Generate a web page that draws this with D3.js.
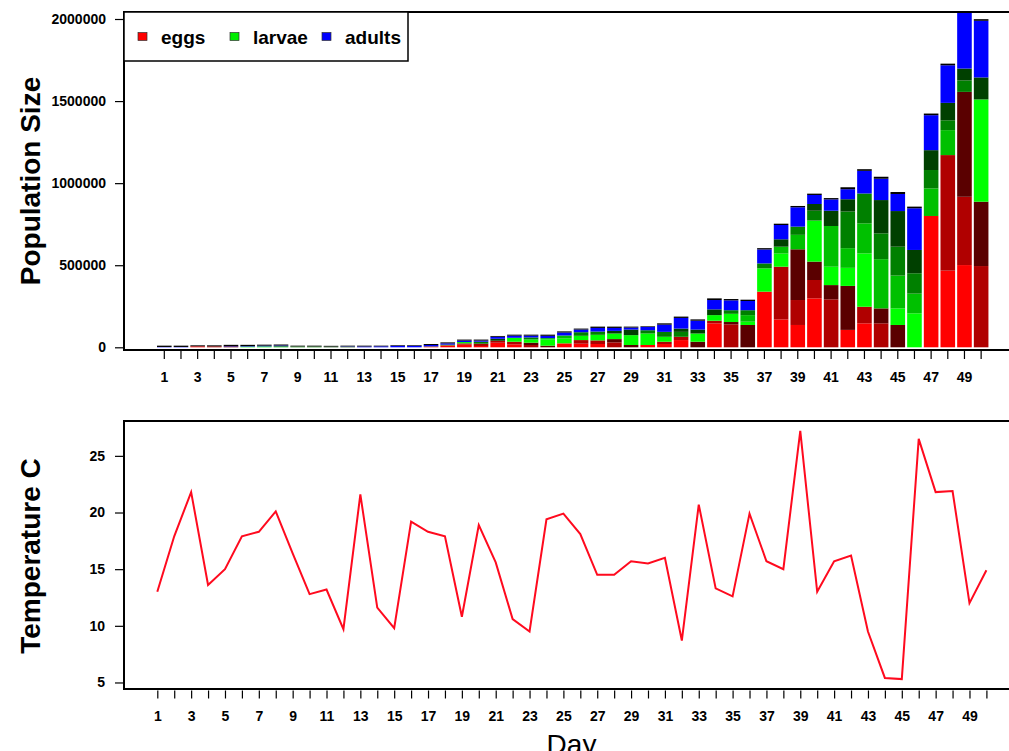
<!DOCTYPE html>
<html><head><meta charset="utf-8">
<script src="https://cdn.jsdelivr.net/npm/d3@7"></script>
<style>
body{margin:0;background:#fff;}
svg{display:block;font-family:"Liberation Sans",Arial,Helvetica,sans-serif;}
</style>
</head><body>
<svg id="chart" width="1009" height="751"></svg>
<script>
// ---------- DATA ----------
const days = [1,2,3,4,5,6,7,8,9,10,11,12,13,14,15,16,17,18,19,20,21,22,23,24,25,26,27,28,29,30,31,32,33,34,35,36,37,38,39,40,41,42,43,44,45,46,47,48,49,50];

// population by age class (stacked bottom to top)
const eggs1   = [0,0,6000,0,0,0,0,0,0,0,0,0,0,0,0,0,4000,12000,16000,8000,28000,18000,0,0,24000,22000,20000,0,0,14000,20000,44000,0,146000,0,0,339000,170000,136000,298000,0,106000,146000,0,0,0,800000,467000,501000,0];
const eggs2   = [0,0,0,6000,0,0,0,0,0,0,0,0,0,0,0,0,0,0,8000,14000,12000,16000,14000,0,0,22000,22000,30000,0,0,14000,20000,0,16000,140000,0,0,321000,152000,112000,292000,0,101000,146000,0,0,0,704000,416000,495000];
const eggs3   = [0,0,0,0,6000,0,0,0,0,0,0,0,0,0,0,0,0,0,0,0,0,0,14000,10000,0,0,0,20000,14000,0,0,0,34000,0,14000,136000,0,0,309000,112000,87000,268000,0,91000,136000,0,0,0,639000,392000];
const larvae1 = [0,0,0,0,0,4000,3000,0,0,0,0,0,0,0,0,0,0,0,8000,0,0,24000,20000,38000,30000,26000,34000,34000,60000,70000,30000,0,50000,34000,50000,20000,142000,80000,0,250000,112000,110000,325000,0,101000,207000,0,0,0,623000];
const larvae2 = [0,0,0,0,0,0,3000,3000,0,0,0,0,0,0,0,0,0,4000,0,0,0,0,0,8000,18000,0,0,0,0,0,0,0,0,0,0,40000,0,42000,88000,0,248000,120000,183000,300000,200000,120000,168000,152000,0,0];
const larvae3 = [0,0,0,0,0,0,0,4000,4000,3000,0,0,0,0,0,0,0,0,0,12000,0,0,12000,0,0,22000,20000,0,0,20000,30000,30000,0,0,22000,30000,30000,0,50000,60000,0,223000,182000,157000,176000,124000,112000,60000,70000,0];
const larvae4 = [0,0,0,0,0,0,0,0,2000,3000,5000,4000,0,0,0,0,2000,0,0,0,12000,0,0,0,0,0,0,16000,34000,0,0,20000,24000,35000,0,0,0,45000,0,41000,93000,75000,0,203000,217000,142000,121000,106000,72000,134000];
const adults  = [2000,2000,0,0,2000,3000,4000,4000,0,0,0,2000,5000,6000,9000,9000,8000,8000,9000,7000,12000,13000,11000,14000,18000,16000,22000,18000,12000,20000,44000,65000,54000,57000,60000,56000,85000,87000,118000,55000,69000,61000,138000,130000,104000,254000,213000,229000,352000,345000];
const oldest  = [8000,8000,6000,6000,7000,8000,6000,6000,4000,4000,4000,4000,5000,4000,4000,4000,6000,6000,6000,6000,5000,6000,6000,7000,7000,6000,8000,8000,6000,4000,8000,8000,8000,10000,8000,8000,8000,8000,8000,8000,8000,12000,10000,12000,12000,10000,10000,10000,10000,10000];

const temperature = [13.0,17.9,21.8,13.6,15.0,17.9,18.3,20.1,16.4,12.8,13.2,9.7,21.6,11.6,9.8,19.2,18.3,17.9,10.8,18.9,15.6,10.6,9.5,19.4,19.9,18.1,14.5,14.5,15.7,15.5,16.0,8.7,20.7,13.3,12.6,19.9,15.7,15.0,27.2,13.0,15.7,16.2,9.5,5.4,5.3,26.5,21.8,21.9,12.0,14.9];

const popTicks = [0,500000,1000000,1500000,2000000];
const tempTicks = [5,10,15,20,25];
const legendLabels = ["eggs","larvae","adults"];
const legendColors = ["#ff0000","#00ee00","#0000ff"];

const stageKeys = ["eggs1","eggs2","eggs3","larvae1","larvae2","larvae3","larvae4","adults","oldest"];
const stageArrays = [eggs1,eggs2,eggs3,larvae1,larvae2,larvae3,larvae4,adults,oldest];
const stageColors = ["#ff0000","#b00000","#5a0000","#00ff00","#00c000","#008000","#004000","#0000ff","#000000"];

// ---------- DRAW ----------
const svg = d3.select("#chart");
svg.append("rect").attr("width",1009).attr("height",751).attr("fill","#fff");

// Top panel geometry
const topBox = {left:124, right:1019, top:12, bottom:350};
const rows = days.map((d,i)=>{
  const r = {day:d};
  stageKeys.forEach((k,j)=>{ r[k] = stageArrays[j][i]; });
  return r;
});
const series = d3.stack().keys(stageKeys)(rows);

const xTop = d3.scaleBand().domain(days).range([155.97, 989.47]).paddingInner(0.124).paddingOuter(0.062);
const yTop = d3.scaleLinear().domain([0,2000000]).range([347.3,19]);

svg.append("clipPath").attr("id","clipTop").append("rect")
  .attr("x",topBox.left).attr("y",topBox.top).attr("width",topBox.right-topBox.left).attr("height",topBox.bottom-topBox.top);

const gBars = svg.append("g").attr("clip-path","url(#clipTop)");
series.forEach((s,j)=>{
  gBars.append("g").attr("fill",stageColors[j])
    .selectAll("rect").data(s).join("rect")
    .attr("x",d=>xTop(d.data.day))
    .attr("width",xTop.bandwidth())
    .attr("y",d=>yTop(d[1]))
    .attr("height",d=>Math.max(0,yTop(d[0])-yTop(d[1])));
});

// box top panel
svg.append("rect").attr("x",topBox.left).attr("y",topBox.top)
  .attr("width",topBox.right-topBox.left).attr("height",topBox.bottom-topBox.top)
  .attr("fill","none").attr("stroke","#000").attr("stroke-width",2);

// axes top
const axTopX = svg.append("g").attr("transform","translate(0,351)")
  .call(d3.axisBottom(xTop).tickSize(8).tickPadding(13).tickFormat(d=> d%2===1 ? d : ""));
axTopX.select(".domain").remove();

const axTopY = svg.append("g").attr("transform","translate(123,0)")
  .call(d3.axisLeft(yTop).tickValues(popTicks).tickFormat(d3.format("d")).tickSize(8).tickPadding(9));
axTopY.select(".domain").remove();

// legend
const lg = svg.append("g");
lg.append("rect").attr("x",124).attr("y",12).attr("width",284).attr("height",49)
  .attr("fill","#fff").attr("stroke","#000").attr("stroke-width",1.5);
const legX = [138,230,322];
legendLabels.forEach((t,i)=>{
  lg.append("rect").attr("x",legX[i]).attr("y",32.5).attr("width",9).attr("height",8)
    .attr("fill",legendColors[i]).attr("stroke","#333").attr("stroke-width",0.7);
  lg.append("text").attr("x",legX[i]+23).attr("y",44).text(t)
    .attr("font-size",19).attr("font-weight","bold");
});

svg.append("text").attr("transform","translate(40,181) rotate(-90)")
  .attr("text-anchor","middle").attr("font-size",28).attr("font-weight","bold")
  .text("Population Size");

// Bottom panel
const botBox = {left:124, right:1019, top:421, bottom:689};
const xBot = d3.scaleLinear().domain([1,50]).range([157.3,986.4]);
const ext = d3.extent(temperature);
const pad = (ext[1]-ext[0])*0.04;
const yBot = d3.scaleLinear().domain([ext[0]-pad, ext[1]+pad]).range([botBox.bottom, botBox.top]);

const tempRows = days.map((d,i)=>({day:d, t:temperature[i]}));
svg.append("path").datum(tempRows)
  .attr("fill","none").attr("stroke","#ff0a1e").attr("stroke-width",2)
  .attr("d", d3.line().x(d=>xBot(d.day)).y(d=>yBot(d.t)));

svg.append("rect").attr("x",botBox.left).attr("y",botBox.top)
  .attr("width",botBox.right-botBox.left).attr("height",botBox.bottom-botBox.top)
  .attr("fill","none").attr("stroke","#000").attr("stroke-width",2);

const axBotX = svg.append("g").attr("transform","translate(0,690.5)")
  .call(d3.axisBottom(xBot).tickValues(days).tickSize(8).tickPadding(13).tickFormat(d=> d%2===1 ? d : ""));
axBotX.select(".domain").remove();

const axBotY = svg.append("g").attr("transform","translate(123,0)")
  .call(d3.axisLeft(yBot).tickValues(tempTicks).tickSize(8).tickPadding(10));
axBotY.select(".domain").remove();

svg.append("text").attr("transform","translate(40,556) rotate(-90)")
  .attr("text-anchor","middle").attr("font-size",28).attr("font-weight","bold")
  .text("Temperature C");

svg.append("text").attr("x",571.5).attr("y",754).attr("text-anchor","middle")
  .attr("font-size",28).attr("font-weight","normal").text("Day");

svg.selectAll(".tick text").attr("font-size",14).attr("font-weight","bold")
  .attr("font-family","'Liberation Sans',Arial,sans-serif").attr("fill","#000");
svg.selectAll(".tick line").attr("stroke","#000").attr("stroke-width",1.2);
</script>
</body></html>
